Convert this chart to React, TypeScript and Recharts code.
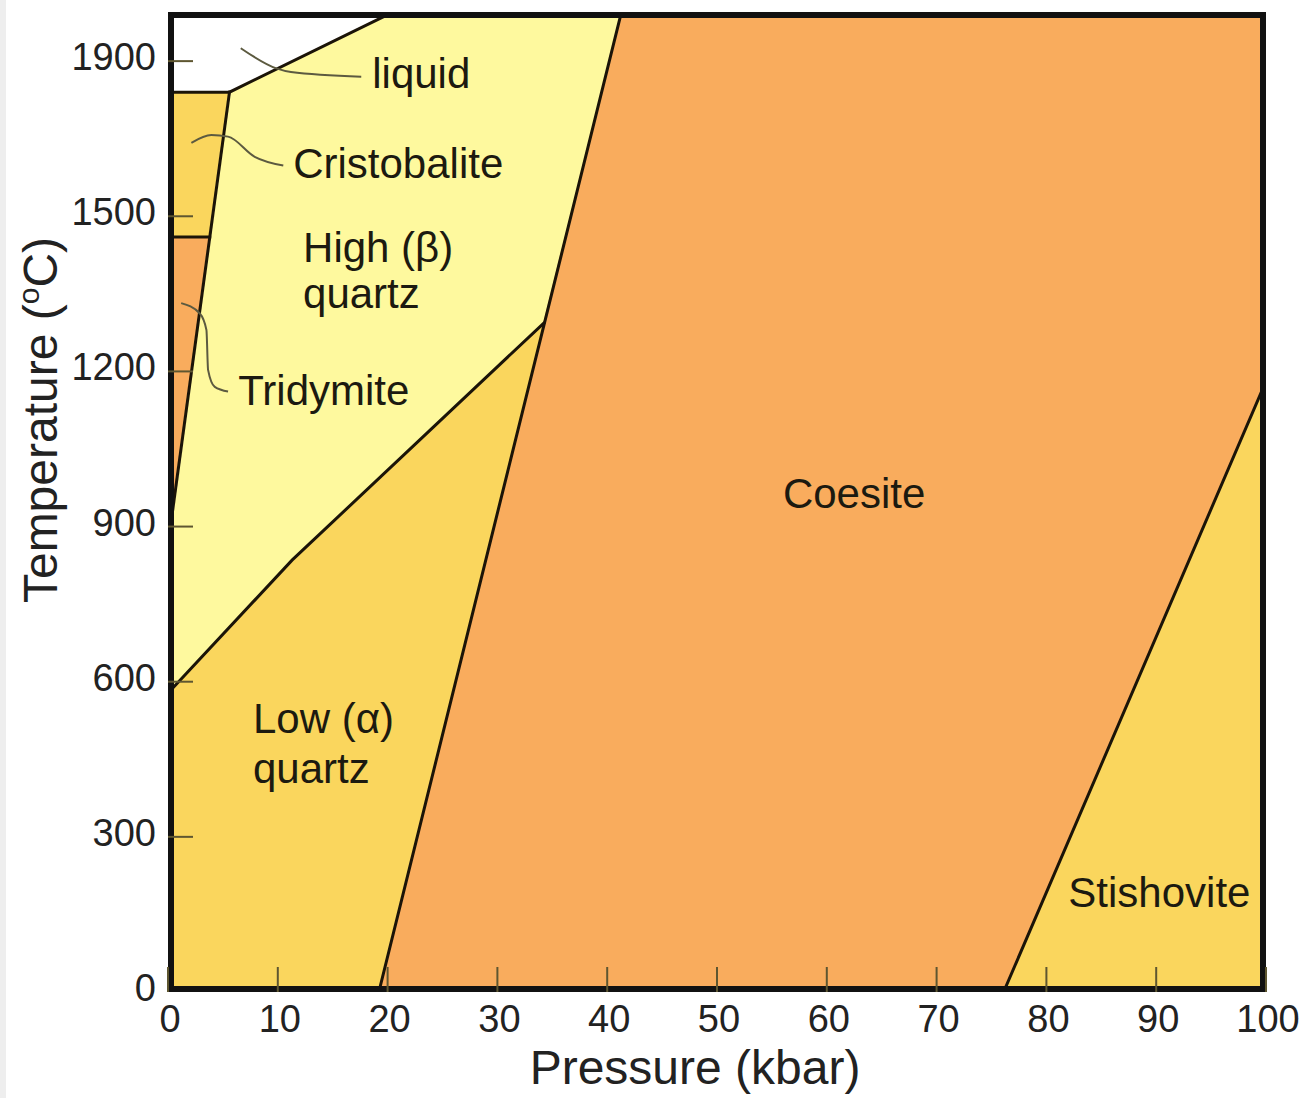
import React from 'react';
import { ScatterChart, Scatter, XAxis, YAxis } from 'recharts';

// ---- axes ----
const P_MAX = 100;
const T_MAX = 1895;
const xTicks = [0, 10, 20, 30, 40, 50, 60, 70, 80, 90, 100];
const yTickValues = [0, 300, 600, 900, 1200, 1500, 1800];
const yTickLabels = ['0', '300', '600', '900', '1200', '1500', '1900'];

// ---- phase fields (pressure kbar, temperature °C) ----
const liquidRegion = [
  { x: 0, y: 1740 }, { x: 5.6, y: 1740 }, { x: 20.5, y: 1895 }, { x: 0, y: 1895 },
];
const cristobaliteRegion = [
  { x: 0, y: 1460 }, { x: 3.8, y: 1460 }, { x: 5.6, y: 1740 }, { x: 0, y: 1740 },
];
const tridymiteRegion = [
  { x: 0, y: 865 }, { x: 3.8, y: 1460 }, { x: 0, y: 1460 },
];
const highQuartzRegion = [
  { x: 0, y: 578 }, { x: 11.3, y: 835 }, { x: 34.2, y: 1293 }, { x: 41.3, y: 1895 },
  { x: 20.5, y: 1895 }, { x: 5.6, y: 1740 }, { x: 0, y: 865 },
];
const lowQuartzRegion = [
  { x: 0, y: 0 }, { x: 19.2, y: 0 }, { x: 34.2, y: 1293 }, { x: 11.3, y: 835 }, { x: 0, y: 578 },
];
const coesiteRegion = [
  { x: 19.2, y: 0 }, { x: 76.1, y: 0 }, { x: 100, y: 1181 }, { x: 100, y: 1895 },
  { x: 41.3, y: 1895 }, { x: 34.2, y: 1293 },
];
const stishoviteRegion = [
  { x: 76.1, y: 0 }, { x: 100, y: 0 }, { x: 100, y: 1181 },
];

// ---- phase boundaries ----
const meltingCurve = [{ x: 0, y: 1740 }, { x: 5.6, y: 1740 }, { x: 20.5, y: 1895 }];
const cristTridBoundary = [{ x: 0, y: 1460 }, { x: 3.8, y: 1460 }];
const tridQuartzBoundary = [{ x: 0, y: 865 }, { x: 5.6, y: 1740 }];
const alphaBetaBoundary = [{ x: 0, y: 578 }, { x: 11.3, y: 835 }, { x: 34.2, y: 1293 }];
const coesiteQuartzBoundary = [{ x: 19.2, y: 0 }, { x: 41.3, y: 1895 }];
const stishoviteBoundary = [{ x: 76.1, y: 0 }, { x: 100, y: 1181 }];
const frame = [
  { x: 0, y: 0 }, { x: P_MAX, y: 0 }, { x: P_MAX, y: T_MAX }, { x: 0, y: T_MAX }, { x: 0, y: 0 },
];

// ---- leader lines ----
const liquidLeader = [
  { x: 6.63, y: 1825 }, { x: 9.87, y: 1786 }, { x: 11.2, y: 1779 }, { x: 17.6, y: 1770 },
];
const cristobaliteLeader = [
  { x: 2.13, y: 1642 }, { x: 3.95, y: 1657 }, { x: 5.47, y: 1654 }, { x: 7.9, y: 1615 }, { x: 10.5, y: 1598 },
];
const tridymiteLeader = [
  { x: 1.2, y: 1332 }, { x: 2.9, y: 1312 }, { x: 3.5, y: 1280 }, { x: 3.65, y: 1203 }, { x: 4.26, y: 1170 }, { x: 5.47, y: 1161 },
];

// ---- field labels ----
const fieldLabels = [
  { x: 56.0, y: 936, text: 'Coesite' },
  { x: 82.0, y: 164, text: 'Stishovite' },
  { x: 7.74, y: 501, text: 'Low (α)' },
  { x: 7.74, y: 404, text: 'quartz' },
  { x: 12.3, y: 1411, text: 'High (β)' },
  { x: 12.3, y: 1322, text: 'quartz' },
  { x: 6.4, y: 1135, text: 'Tridymite' },
  { x: 11.4, y: 1574, text: 'Cristobalite' },
  { x: 18.6, y: 1748, text: 'liquid' },
];

const FONT = '"Liberation Sans", Arial, Helvetica, sans-serif';
const PALE = '#FEF99E';
const YELLOW = '#FAD65D';
const ORANGE = '#F9AC5D';
const WHITE = '#FFFFFF';
const LINE = '#1b1408';
const TICK = '#5e5630';

const noDot = () => <g />;

const XTick = (props: any) => {
  const { x, y, payload } = props;
  return (
    <g>
      <line x1={x} x2={x} y1={y} y2={y - 25} stroke={TICK} strokeWidth={2} />
      <text x={x + 2} y={y + 40} textAnchor="middle" fontSize={38} fontFamily={FONT} fill="#222">
        {payload.value}
      </text>
    </g>
  );
};

const YTick = (props: any) => {
  const { x, y, payload } = props;
  const i = yTickValues.indexOf(payload.value);
  return (
    <g>
      {payload.value !== 0 && (
        <line x1={x} x2={x + 25} y1={y} y2={y} stroke={TICK} strokeWidth={2} />
      )}
      <text x={x - 12} y={y + 9} textAnchor="end" fontSize={38} fontFamily={FONT} fill="#222">
        {yTickLabels[i]}
      </text>
    </g>
  );
};

const yTitle = (props: any) => {
  const vb = props.viewBox || { x: 0, y: 0, width: 160, height: 980 };
  const cx = vb.x + 49;
  const cy = vb.y + vb.height / 2 - 82;
  return (
    <text
      x={cx}
      y={cy}
      transform={`rotate(-90 ${cx} ${cy})`}
      textAnchor="middle"
      fontSize={48}
      fontFamily={FONT}
      fill="#222"
    >
      Temperature (
      <tspan fontSize={30} dy={-18}>o</tspan>
      <tspan dy={18}>C)</tspan>
    </text>
  );
};

const xTitle = (props: any) => {
  const vb = props.viewBox || { x: 160, y: 984, width: 1098, height: 106 };
  const cx = vb.x + vb.width / 2 - 22;
  const cy = vb.y + 92;
  return (
    <text x={cx} y={cy} textAnchor="middle" fontSize={48} fontFamily={FONT} fill="#222">
      Pressure (kbar)
    </text>
  );
};

const labelShape = (p: any) => (
  <text x={p.cx} y={p.cy} fontSize={42} fontFamily={FONT} fill="#1c1a10">
    {p.payload.text}
  </text>
);

const region = (data: any[], color: string, key: string) => (
  <Scatter
    key={key}
    data={data}
    fill={color}
    shape={noDot}
    line={{ fill: color, stroke: color, strokeWidth: 1 }}
    lineJointType="linear"
    isAnimationActive={false}
    zIndex={50}
  />
);

const boundary = (data: any[], key: string, width = 3, color = LINE) => (
  <Scatter
    key={key}
    data={data}
    fill={color}
    shape={noDot}
    line={{ fill: 'none', stroke: color, strokeWidth: width, strokeLinecap: 'square', strokeLinejoin: 'miter' }}
    lineJointType="linear"
    isAnimationActive={false}
  />
);

const leader = (data: any[], key: string) => (
  <Scatter
    key={key}
    data={data}
    fill="#5c5a40"
    shape={noDot}
    line={{ fill: 'none', stroke: '#5c5a40', strokeWidth: 2 }}
    lineJointType="monotoneX"
    isAnimationActive={false}
  />
);

export default function App() {
  return (
    <div>
      <div style={{ position: 'fixed', left: 0, top: 0, width: 6, height: '100%', background: '#eeeeee' }} />
      <ScatterChart width={1293} height={1090} margin={{ top: 4, right: 35, bottom: 0, left: 0 }}>
        {region(liquidRegion, WHITE, 'r-liq')}
        {region(cristobaliteRegion, YELLOW, 'r-cri')}
        {region(tridymiteRegion, ORANGE, 'r-tri')}
        {region(highQuartzRegion, PALE, 'r-hq')}
        {region(lowQuartzRegion, YELLOW, 'r-lq')}
        {region(coesiteRegion, ORANGE, 'r-coe')}
        {region(stishoviteRegion, YELLOW, 'r-sti')}
        <XAxis
          type="number"
          dataKey="x"
          domain={[0, P_MAX]}
          ticks={xTicks}
          interval={0}
          allowDataOverflow
          axisLine={false}
          tickLine={false}
          tickSize={0}
          tickMargin={0}
          height={106}
          tick={XTick}
          label={xTitle}
        />
        <YAxis
          type="number"
          dataKey="y"
          domain={[0, T_MAX]}
          ticks={yTickValues}
          interval={0}
          allowDataOverflow
          axisLine={false}
          tickLine={false}
          tickSize={0}
          tickMargin={0}
          width={160}
          tick={YTick}
          label={yTitle}
        />
        {boundary(meltingCurve, 'b-melt')}
        {boundary(cristTridBoundary, 'b-ct')}
        {boundary(tridQuartzBoundary, 'b-tq')}
        {boundary(alphaBetaBoundary, 'b-ab')}
        {boundary(coesiteQuartzBoundary, 'b-cq')}
        {boundary(stishoviteBoundary, 'b-st')}
        {leader(liquidLeader, 'l-liq')}
        {leader(cristobaliteLeader, 'l-cri')}
        {leader(tridymiteLeader, 'l-tri')}
        <Scatter data={fieldLabels} shape={labelShape} isAnimationActive={false} />
        {boundary(frame, 'frame', 12, '#111111')}
      </ScatterChart>
    </div>
  );
}
